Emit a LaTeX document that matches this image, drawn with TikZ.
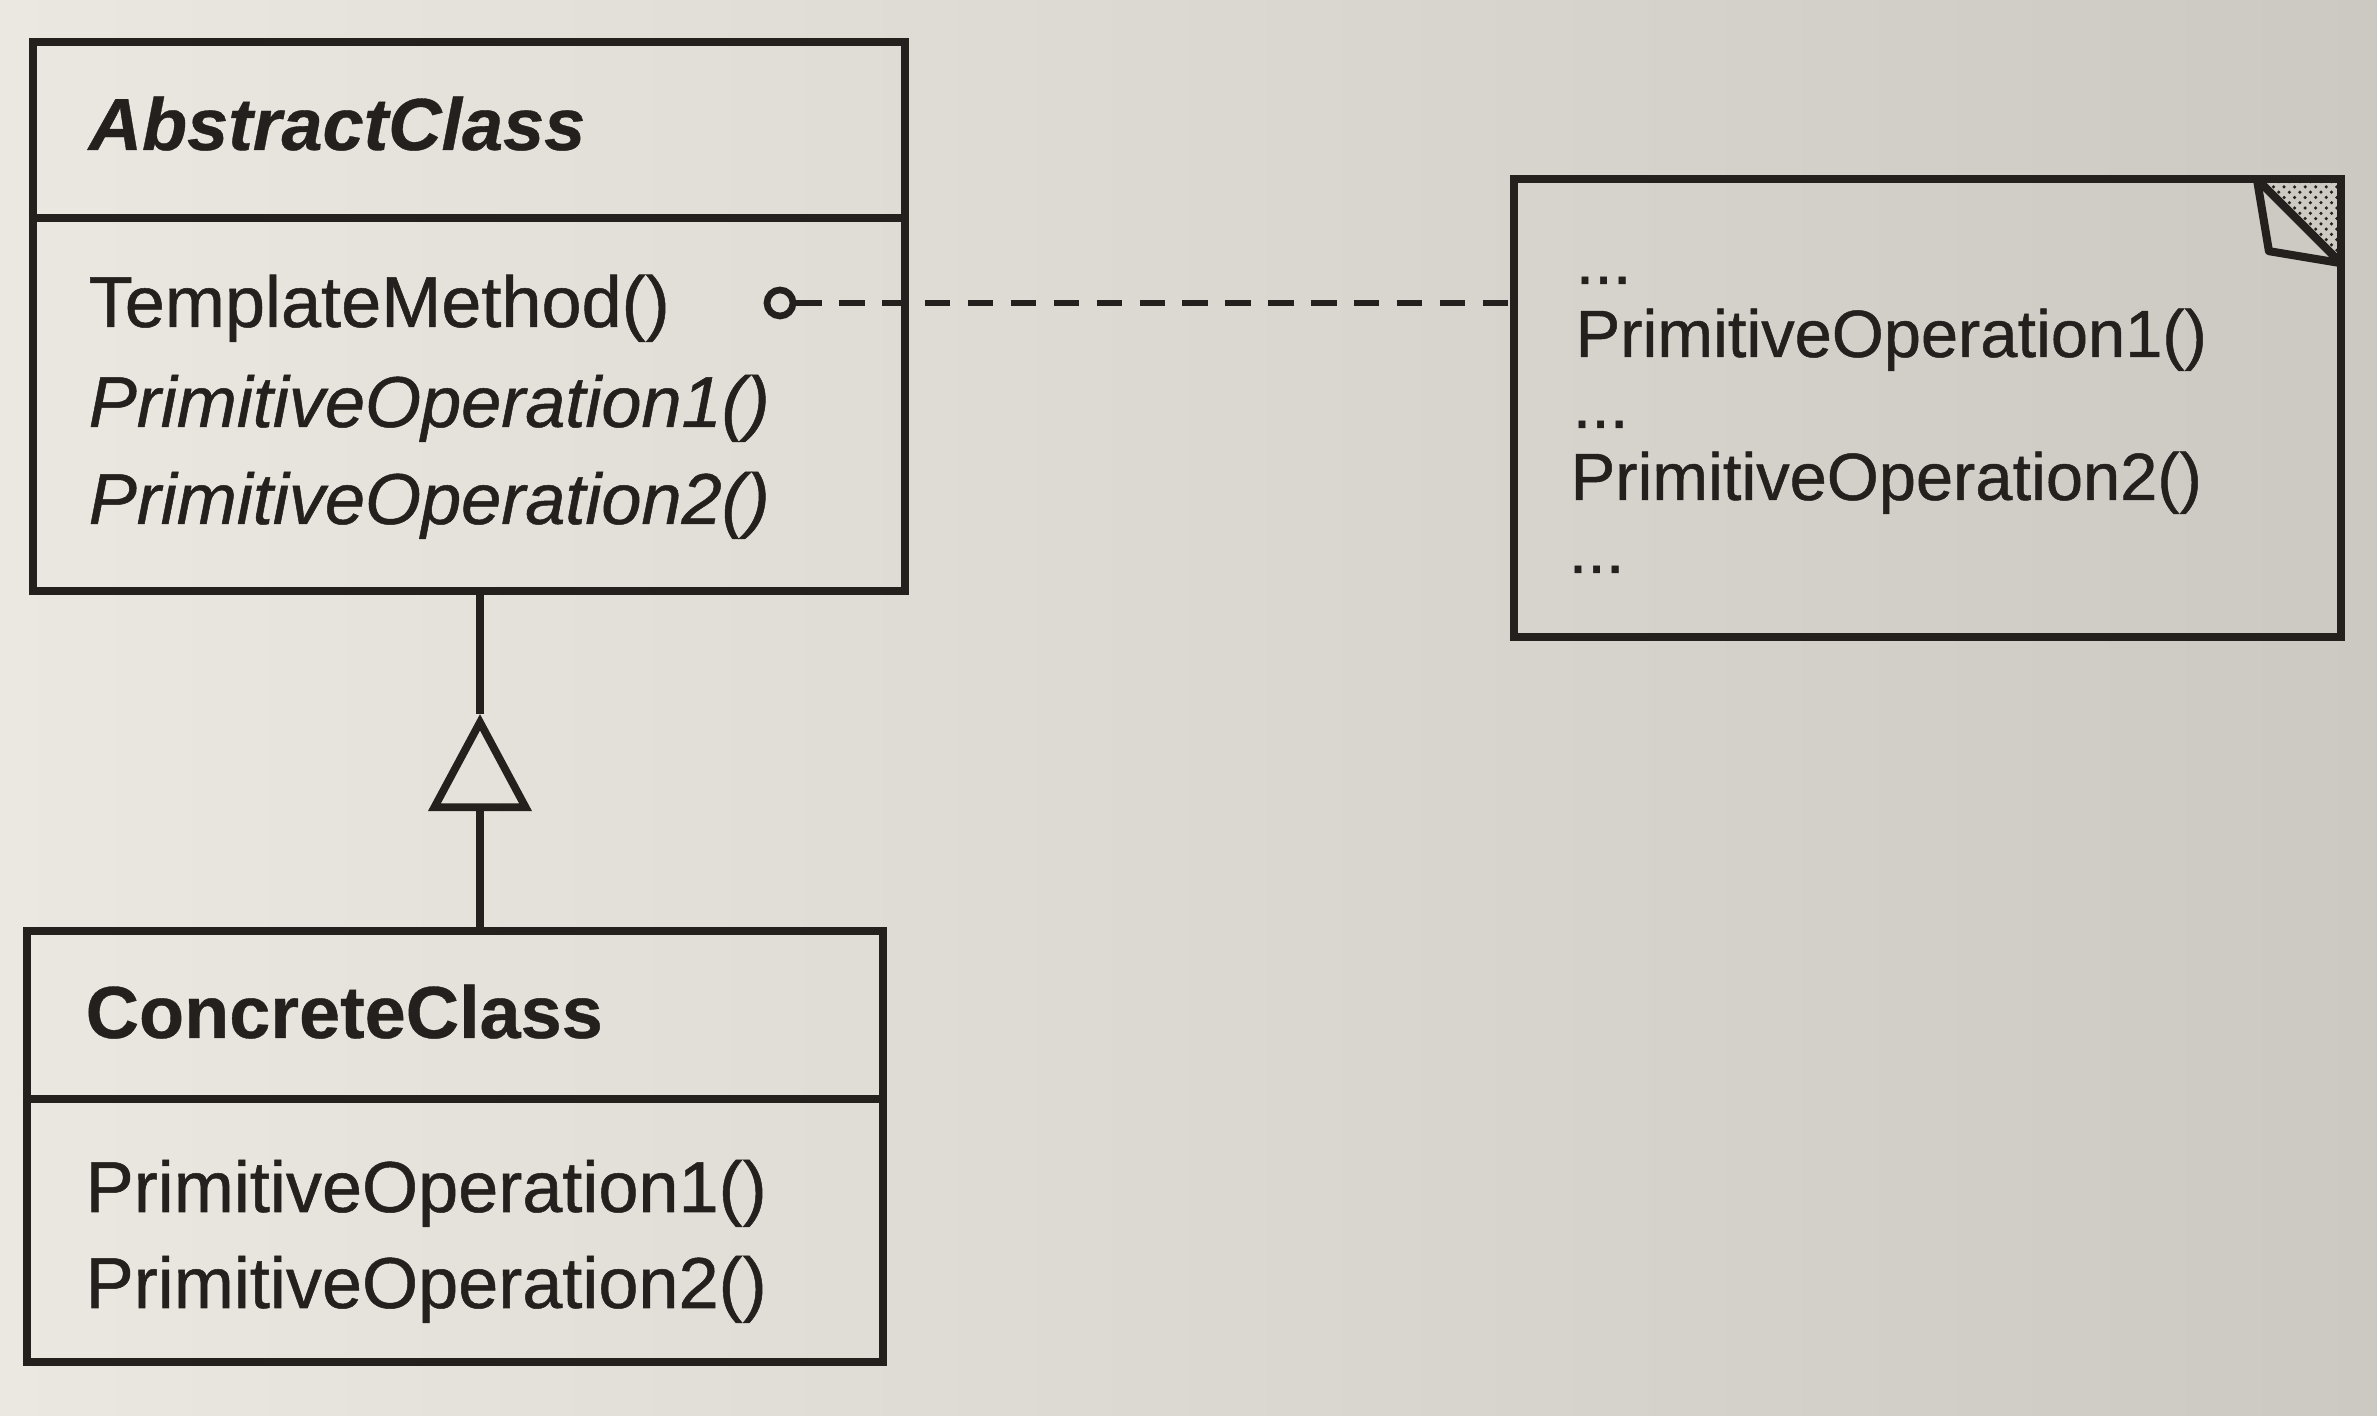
\documentclass[tikz,border=0pt]{standalone}
\usepackage{fontspec}
\setmainfont{Liberation Sans}[UprightFeatures={FakeBold=0.7}, ItalicFeatures={FakeBold=0.7}, BoldFeatures={FakeBold=0.5}, BoldItalicFeatures={FakeBold=0.5}]
\usetikzlibrary{arrows.meta,patterns}

\definecolor{ink}{RGB}{36,32,30}
\definecolor{paperleft}{RGB}{234,232,225}
\definecolor{paperright}{RGB}{203,201,194}

\tikzset{
  classbox/.style={draw=ink, line width=2.3pt, inner sep=0pt},
  opline/.style={anchor=base west, inner sep=0pt, text=ink, font=\fontsize{20.5}{24}\selectfont},
  notetext/.style={opline, font=\fontsize{19}{23}\selectfont},
  titleline/.style={opline, font=\fontsize{21}{25}\selectfont\bfseries},
}

\begin{document}
\begin{tikzpicture}[x=.01cm, y=-.01cm]
\shade[left color=paperleft, right color=paperright] (0,0) rectangle (2377,1416);

% abstract class
\node[classbox, minimum width=8.72cm, minimum height=5.49cm] (abstract) at (469,316.5) {};
\draw[classbox] (abstract.west |- 0,218) -- (abstract.east |- 0,218);
\node[titleline, font=\fontsize{21}{25}\selectfont\bfseries\itshape] (abstractname) at (88,150) {AbstractClass};
\node[opline] (templ) at (88,327) {TemplateMethod()};
\node[opline, font=\fontsize{20.5}{24}\selectfont\itshape] (absop1) at (88,427) {PrimitiveOperation1()};
\node[opline, font=\fontsize{20.5}{24}\selectfont\itshape] (absop2) at (88,524) {PrimitiveOperation2()};

% concrete class
\node[classbox, minimum width=8.56cm, minimum height=4.31cm] (concrete) at (455,1146.5) {};
\draw[classbox] (concrete.west |- 0,1099) -- (concrete.east |- 0,1099);
\node[titleline] (concretename) at (85,1038) {ConcreteClass};
\node[opline] (conop1) at (85,1212) {PrimitiveOperation1()};
\node[opline] (conop2) at (85,1308) {PrimitiveOperation2()};

% note with folded corner
\node[inner sep=0pt, minimum width=8.25cm, minimum height=4.56cm] (note) at (1927.5,408) {};
\draw[classbox] (note.north west) rectangle (note.south east);
\fill[pattern=crosshatch dots, pattern color=ink] (note.north east) -- ++(-84,0) -- ++(84,84) -- cycle;
\draw[classbox, line join=round] (note.north east) ++(-84,0) coordinate (earleft) -- ++(84,84) coordinate (earbottom);
\draw[classbox, line join=round] (earleft) -- ++(12,72) -- (earbottom);
\node[notetext] (dots1) at (1575,284) {...};
\node[notetext] (noteop1) at (1575,357) {PrimitiveOperation1()};
\node[notetext] (dots2) at (1572,428) {...};
\node[notetext] (noteop2) at (1570,500) {PrimitiveOperation2()};
\node[notetext] (dots3) at (1568,573) {...};

% note link
\node[circle, draw=ink, line width=1.9pt, minimum size=.26cm, inner sep=0pt] (hook) at (780,303) {};
\draw[ink, line width=1.9pt, dash pattern=on 7.2pt off 5pt] (hook.east) -- (hook.east -| note.west);

% inheritance
\coordinate (apex) at (480,714);
\draw[ink, line width=2.2pt, -{Triangle[open, length=.97cm, width=1.02cm]}] (apex |- concrete.north) -- (apex);
\draw[ink, line width=2.2pt] (apex) -- (apex |- abstract.south);
\end{tikzpicture}
\end{document}
